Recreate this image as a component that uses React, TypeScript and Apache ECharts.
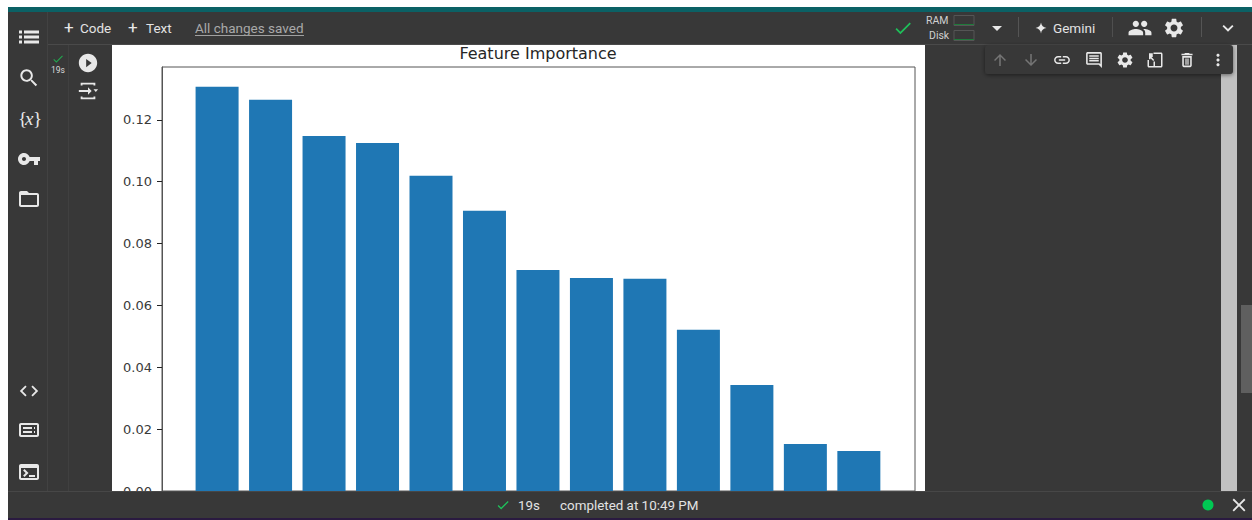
import React, { useEffect, useRef } from "react";
import * as echarts from "echarts";

const chartTitle = "Feature Importance";
const featureIndex = [0, 1, 2, 3, 4, 5, 6, 7, 8, 9, 10, 11, 12];
const importance = [0.1307, 0.1265, 0.1148, 0.1125, 0.1019, 0.0906, 0.0715, 0.0689, 0.0686, 0.0521, 0.0343, 0.0152, 0.0129];
const yTicks = [0, 0.02, 0.04, 0.06, 0.08, 0.1, 0.12];

const icons: Record<string, string> = {
  list: "M2 13.5h3v-3H2v3zm0 5h3v-3H2v3zm0-10h3v-3H2v3zm5 5h15v-3H7v3zm0 5h15v-3H7v3zM7 5.5v3h15v-3H7z",
  search: "M15.5 14h-.79l-.28-.27C15.41 12.59 16 11.11 16 9.5 16 5.91 13.09 3 9.5 3S3 5.91 3 9.5 5.91 16 9.5 16c1.61 0 3.09-.59 4.23-1.57l.27.28v.79l5 4.99L20.49 19l-4.99-5zm-6 0C7.01 14 5 11.99 5 9.5S7.01 5 9.5 5 14 7.01 14 9.5 11.99 14 9.5 14z",
  key: "M12.65 10C11.83 7.67 9.61 6 7 6c-3.31 0-6 2.69-6 6s2.69 6 6 6c2.61 0 4.83-1.67 5.65-4H17v4h4v-4h2v-4H12.65zM7 14c-1.1 0-2-.9-2-2s.9-2 2-2 2 .9 2 2-.9 2-2 2z",
  folder: "M20 6h-8l-2-2H4c-1.1 0-1.99.9-1.99 2L2 18c0 1.1.9 2 2 2h16c1.1 0 2-.9 2-2V8c0-1.1-.9-2-2-2zm0 12H4V8h16v10z",
  code: "M9.4 16.6L4.8 12l4.6-4.6L8 6l-6 6 6 6 1.4-1.4zm5.2 0l4.6-4.6-4.6-4.6L16 6l6 6-6 6-1.4-1.4z",
  people: "M16 11c1.66 0 2.99-1.34 2.99-3S17.66 5 16 5c-1.66 0-3 1.34-3 3s1.34 3 3 3zm-8 0c1.66 0 2.99-1.34 2.99-3S9.66 5 8 5C6.34 5 5 6.34 5 8s1.34 3 3 3zm0 2c-2.33 0-7 1.17-7 3.5V19h14v-2.5c0-2.33-4.67-3.5-7-3.5zm8 0c-.29 0-.62.02-.97.05 1.16.84 1.97 1.97 1.97 3.45V19h6v-2.5c0-2.33-4.67-3.5-7-3.5z",
  gear: "M19.14 12.94c.04-.3.06-.61.06-.94 0-.32-.02-.64-.07-.94l2.03-1.58c.18-.14.23-.41.12-.61l-1.92-3.32c-.12-.22-.37-.29-.59-.22l-2.39.96c-.5-.38-1.03-.7-1.62-.94l-.36-2.54c-.04-.24-.24-.41-.48-.41h-3.84c-.24 0-.43.17-.47.41l-.36 2.54c-.59.24-1.13.57-1.62.94l-2.39-.96c-.22-.08-.47 0-.59.22L2.74 8.87c-.12.21-.08.47.12.61l2.03 1.58c-.05.3-.09.63-.09.94s.02.64.07.94l-2.03 1.58c-.18.14-.23.41-.12.61l1.92 3.32c.12.22.37.29.59.22l2.39-.96c.5.38 1.03.7 1.62.94l.36 2.54c.05.24.24.41.48.41h3.84c.24 0 .44-.17.47-.41l.36-2.54c.59-.24 1.13-.56 1.62-.94l2.39.96c.22.08.47 0 .59-.22l1.92-3.32c.12-.22.07-.47-.12-.61l-2.01-1.58zM12 15.6c-1.98 0-3.6-1.62-3.6-3.6s1.62-3.6 3.6-3.6 3.6 1.62 3.6 3.6-1.62 3.6-3.6 3.6z",
  play: "M12 2C6.48 2 2 6.48 2 12s4.48 10 10 10 10-4.48 10-10S17.52 2 12 2zm-2 14.5v-9l6 4.5-6 4.5z",
  check: "M9 16.17L4.83 12l-1.42 1.41L9 19 21 7l-1.41-1.41z",
  up: "M4 12l1.41 1.41L11 7.83V20h2V7.83l5.58 5.59L20 12l-8-8-8 8z",
  down: "M20 12l-1.41-1.41L13 16.17V4h-2v12.17l-5.58-5.59L4 12l8 8 8-8z",
  link: "M3.9 12c0-1.71 1.39-3.1 3.1-3.1h4V7H7c-2.76 0-5 2.24-5 5s2.24 5 5 5h4v-1.9H7c-1.71 0-3.1-1.39-3.1-3.1zM8 13h8v-2H8v2zm9-6h-4v1.9h4c1.71 0 3.1 1.39 3.1 3.1s-1.39 3.1-3.1 3.1h-4V17h4c2.76 0 5-2.24 5-5s-2.24-5-5-5z",
  comment: "M20 2H4c-1.1 0-2 .9-2 2v12c0 1.1.9 2 2 2h14l4 4V4c0-1.1-.9-2-2-2zm0 15.17L18.83 16H4V4h16v13.17zM6 12h12v2H6zm0-3h12v2H6zm0-3h12v2H6z",
  trash: "M6 19c0 1.1.9 2 2 2h8c1.1 0 2-.9 2-2V7H6v12zM8 9h8v10H8V9zm2 1h1.5v8H10zm2.5 0H14v8h-1.5zm3-6l-1-1h-5l-1 1H5v2h14V4h-3.5z",
  more: "M12 8c1.1 0 2-.9 2-2s-.9-2-2-2-2 .9-2 2 .9 2 2 2zm0 2c-1.1 0-2 .9-2 2s.9 2 2 2 2-.9 2-2-.9-2-2-2zm0 6c-1.1 0-2 .9-2 2s.9 2 2 2 2-.9 2-2-.9-2-2-2z",
  close: "M19 6.41L17.59 5 12 10.59 6.41 5 5 6.41 10.59 12 5 17.59 6.41 19 12 13.41 17.59 19 19 17.59 13.41 12z",
  expand: "M16.59 8.59L12 13.17 7.41 8.59 6 10l6 6 6-6z",
  drop: "M7 10l5 5 5-5z",
  spark: "M12 2c.6 5.5 4.5 9.4 10 10-5.5.6-9.4 4.5-10 10-.6-5.5-4.5-9.4-10-10 5.5-.6 9.4-4.5 10-10z",
  term: "M20 4H4c-1.1 0-2 .9-2 2v12c0 1.1.9 2 2 2h16c1.1 0 2-.9 2-2V6c0-1.1-.9-2-2-2zm0 14H4V8h16v10zm-2-1h-6v-2h6v2zM7.5 17l-1.41-1.41L8.67 13l-2.59-2.59L7.5 9l4 4-4 4z",
  palette: "M20 5H4c-1.1 0-2 .9-2 2v10c0 1.1.9 2 2 2h16c1.1 0 2-.9 2-2V7c0-1.1-.9-2-2-2zm0 12H4V7h16v10zM6 9h9v2H6zm11 0h1v2h-1zM6 13h9v2H6zm11 0h1v2h-1z",
  mirror: "M10 2h10c1.1 0 2 .9 2 2v16c0 1.1-.9 2-2 2H4c-1.1 0-2-.9-2-2v-8h2v8h6v-6h2v6h8V4H10V2zM4 3l5 0v5H7.4L11 12l-1.4 1.4L6 9.6V11H4V3z",
  output: "M4 3h16v3h-2V5H6v1H4V3zM4 18h2v1h12v-1h2v3H4v-3zM2 11h10V8l4 4-4 4v-3H2v-2zm16-1h5l-2.5 3z",
};
Object.keys(icons).forEach((k) => {
  echarts.graphic.registerShape("ic_" + k, echarts.graphic.extendPath(icons[k], {}) as any);
});

const DARK = "#383838";
const ICON = "#e8e8e8";
const Z = 50;

const box = (x: number, y: number, width: number, height: number, fill: string, z = Z) => ({
  type: "rect", silent: true, z, shape: { x, y, width, height }, style: { fill },
});
const icon = (name: string, cx: number, cy: number, size: number, fill = ICON) => ({
  type: "ic_" + name, silent: true, z: Z + 3, x: cx - size / 2, y: cy - size / 2,
  scaleX: size / 24, scaleY: size / 24, style: { fill },
});
const label = (text: string, x: number, y: number, fontSize: number, fill = "#e3e3e3", textAlign = "left", fontFamily = "Roboto", fontStyle = "normal") => ({
  type: "text", silent: true, z: Z + 3, x, y,
  style: { text, fontSize, fill, textAlign, textVerticalAlign: "middle", fontFamily, fontStyle },
});

const chrome: any[] = [
  box(0, 0, 1252, 7, "#ffffff"),
  box(0, 0, 8, 520, "#ffffff"),
  box(8, 7, 1244, 5, "#0b6165"),
  box(8, 12, 1244, 33, DARK),
  box(8, 45, 104, 446, DARK),
  box(47, 12, 1, 479, "#424242", Z + 1),
  box(68, 45, 1, 446, "#404040", Z + 1),
  box(48, 44, 1204, 1, "#4a4a4a", Z + 1),
  box(925, 45, 327, 446, DARK),
  box(1221, 45, 16, 446, "#c1c1c1", Z + 1),
  box(1241, 305, 11, 88, "#5f5f5f", Z + 1),
  box(8, 491, 1244, 27, DARK, Z + 2),
  box(8, 491, 1244, 1, "#474747", Z + 2),
  box(8, 518, 1244, 2, "#2a1a40", Z + 2),
  icon("list", 29, 37, 24),
  icon("search", 29, 78, 23),
  label("{", 18, 118, 19, ICON, "left", "Liberation Serif"),
  label("x", 25, 118, 19, ICON, "left", "Liberation Serif", "italic"),
  label("}", 33, 118, 19, ICON, "left", "Liberation Serif"),
  icon("key", 29, 159, 24),
  icon("folder", 29, 199, 24),
  icon("code", 29, 391, 22),
  icon("palette", 29, 430, 24),
  icon("term", 29, 472, 24),
  label("+", 64, 27, 17, ICON),
  label("Code", 80, 27.5, 13.5),
  label("+", 128, 27, 17, ICON),
  label("Text", 146, 27.5, 13.5),
  label("All changes saved", 195, 27.5, 13.5, "#a9a9a9"),
  box(195, 35, 109, 1, "#a0a0a0", Z + 3),
  icon("check", 58, 59, 13, "#22a94f"),
  label("19s", 51, 70, 8.5, "#d8d8d8"),
  icon("play", 88, 63, 22),
  icon("output", 88, 91, 22),
  icon("check", 903, 28, 21, "#1fbf5a"),
  label("RAM", 926, 20.5, 10.5, "#d0d0d0"),
  label("Disk", 929, 35, 10.5, "#d0d0d0"),
  { type: "rect", silent: true, z: Z + 3, shape: { x: 954, y: 15.5, width: 20, height: 10 }, style: { fill: "none", stroke: "#555555", lineWidth: 1 } },
  { type: "rect", silent: true, z: Z + 3, shape: { x: 954, y: 30.5, width: 20, height: 10 }, style: { fill: "none", stroke: "#555555", lineWidth: 1 } },
  box(954, 24, 20, 1, "#1f7a3a", Z + 4),
  box(954, 39, 20, 1, "#1f7a3a", Z + 4),
  icon("drop", 997, 28, 24),
  box(1018, 17, 1, 20, "#555555", Z + 3),
  icon("spark", 1041, 28, 13),
  label("Gemini", 1053, 27.5, 13.5),
  box(1112, 17, 1, 20, "#4f4f4f", Z + 3),
  icon("people", 1140, 28, 25),
  icon("gear", 1174, 28, 23),
  box(1201, 17, 1, 20, "#555555", Z + 3),
  icon("expand", 1228, 28, 22),
  { type: "rect", silent: true, z: Z + 2, shape: { x: 985, y: 45, width: 248, height: 29, r: 3 },
    style: { fill: DARK, shadowBlur: 4, shadowColor: "rgba(0,0,0,0.5)", shadowOffsetY: 1 } },
  icon("up", 1000, 60, 18, "#757575"),
  icon("down", 1031, 60, 18, "#757575"),
  icon("link", 1062, 60, 19),
  icon("comment", 1094, 60, 19),
  icon("gear", 1125, 60, 19),
  icon("mirror", 1155, 60, 18),
  icon("trash", 1187, 60, 19),
  icon("more", 1218, 60, 19),
  icon("check", 503, 505, 15, "#1fbf5a"),
  label("19s", 518, 505, 13.3),
  label("completed at 10:49 PM", 560, 505, 13.4),
  { type: "circle", silent: true, z: Z + 3, shape: { cx: 1208, cy: 505, r: 5.5 }, style: { fill: "#00c853" } },
  icon("close", 1239, 505, 22),
];

export default function App() {
  const ref = useRef<HTMLDivElement>(null);
  useEffect(() => {
    document.body.style.margin = "0";
    const chart = echarts.init(ref.current!, null, { renderer: "svg" });
    chart.setOption({
      animation: false,
      backgroundColor: "#ffffff",
      textStyle: { fontFamily: "DejaVu Sans" },
      title: {
        text: chartTitle, left: 533, top: 40, textAlign: "center",
        textStyle: { fontFamily: "DejaVu Sans", fontSize: 16, fontWeight: "normal", color: "#262626" },
      },
      grid: { left: 162, top: 67, width: 753, height: 424, show: true, borderColor: "#555555", borderWidth: 1, backgroundColor: "#ffffff" },
      xAxis: {
        type: "value", min: -1.03, max: 13.05, splitLine: { show: false },
        axisLine: { show: true, onZero: false, lineStyle: { color: "#555555" } },
        axisTick: { show: true, customValues: featureIndex, length: 4, lineStyle: { color: "#222222" } },
        axisLabel: { show: false },
      },
      yAxis: {
        type: "value", min: 0, max: 0.1371, splitLine: { show: false },
        axisLine: { show: true, onZero: false, lineStyle: { color: "#555555" } },
        axisTick: { show: true, customValues: yTicks, length: 5, lineStyle: { color: "#222222", width: 1 } },
        axisLabel: {
          customValues: yTicks, color: "#3a3a3a", fontSize: 13, margin: 10, fontFamily: "DejaVu Sans",
          padding: [3, 0, 0, 0],
          formatter: (v: number) => v.toFixed(2),
        },
      },
      series: [{
        type: "bar", barWidth: 43, itemStyle: { color: "#1f77b4" }, silent: true,
        data: featureIndex.map((i) => [i, importance[i]]),
      }],
      graphic: { elements: chrome },
    });
    return () => chart.dispose();
  }, []);
  return <div ref={ref} style={{ position: "absolute", left: 0, top: 0, width: 1252, height: 520 }} />;
}
